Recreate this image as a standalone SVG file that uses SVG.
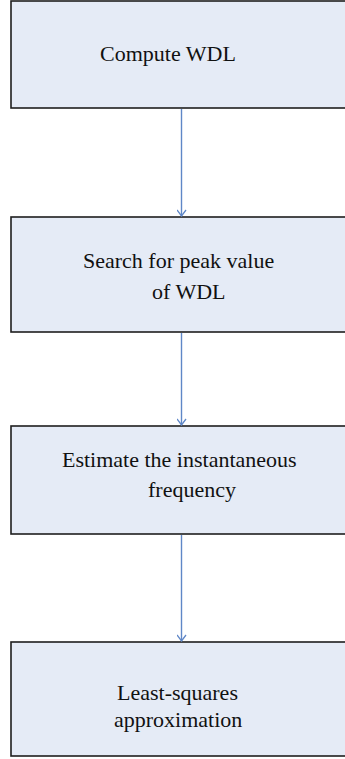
<svg xmlns="http://www.w3.org/2000/svg" width="345" height="759" viewBox="0 0 345 759">
<style>
.box{fill:#e5ebf6;stroke:#1e1e1e;stroke-width:1.6}
.lbl{font-family:"Liberation Serif","DejaVu Serif",serif;font-size:22px;fill:#111}
.conn{stroke:#5f87c7;stroke-width:1.4;fill:none}
</style>
<defs>
<marker id="arr" viewBox="0 0 8 10" refX="7.5" refY="5" markerWidth="8" markerHeight="10" markerUnits="userSpaceOnUse" orient="auto">
<path d="M1.5,0.5 L7.5,5 L1.5,9.5" fill="none" stroke="#5f87c7" stroke-width="1.3"/>
</marker>
</defs>
<g id="node1">
<rect class="box" x="11" y="1" width="345" height="107"/>
<text class="lbl" x="100" y="60.5">Compute WDL</text>
</g>
<g id="node2">
<rect class="box" x="11" y="217" width="345" height="115"/>
<text class="lbl" x="83" y="268">Search for peak value</text>
<text class="lbl" x="152" y="299">of WDL</text>
</g>
<g id="node3">
<rect class="box" x="11" y="426" width="345" height="108"/>
<text class="lbl" x="62" y="467">Estimate the instantaneous</text>
<text class="lbl" x="148" y="497">frequency</text>
</g>
<g id="node4">
<rect class="box" x="11" y="642" width="345" height="114"/>
<text class="lbl" x="117" y="700">Least-squares</text>
<text class="lbl" x="114" y="727">approximation</text>
</g>
<g id="connectors">
<line class="conn" x1="181.5" y1="109" x2="181.5" y2="216" marker-end="url(#arr)"/>
<line class="conn" x1="181.5" y1="333" x2="181.5" y2="425" marker-end="url(#arr)"/>
<line class="conn" x1="181.5" y1="535" x2="181.5" y2="641" marker-end="url(#arr)"/>
</g>
</svg>
